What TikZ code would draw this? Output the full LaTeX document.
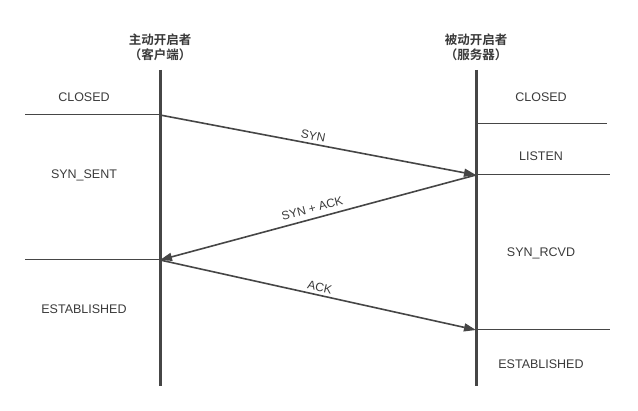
\documentclass[tikz,border=0pt]{standalone}
\usepackage{fontspec}
\setmainfont{Liberation Sans}
\newfontfamily\cjk{Noto Sans CJK SC}[BoldFont={Noto Sans CJK SC Bold}]
\usetikzlibrary{arrows.meta}
\definecolor{ln}{HTML}{464646}
\definecolor{tx}{HTML}{3A3A3A}
\tikzset{
  life/.style={draw=ln, line width=3pt},
  tick/.style={draw=ln, line width=1pt},
  msg/.style={draw=ln, line width=1.6pt, -{Triangle[length=12pt,width=8pt]}},
  state/.style={text=tx, font=\fontsize{12.5}{14}\selectfont, inner sep=0pt},
  head/.style={text=tx, font=\cjk\bfseries\fontsize{12.5}{15}\selectfont, align=center, inner sep=0pt},
  lbl/.style={text=tx, font=\fontsize{12}{14}\selectfont, inner sep=0pt, anchor=south}
}
\begin{document}
\begin{tikzpicture}[x=1pt,y=1pt]
\useasboundingbox (0,0) rectangle (638,411);
% headers
\node[head] (hc) at (160,364) {主动开启者\\（客户端）};
\node[head] (hs) at (476,364) {被动开启者\\（服务器）};
% lifelines
\coordinate (ct) at (160,341); \coordinate (cb) at (160,25);
\coordinate (st) at (476,341); \coordinate (sb) at (476,25);
\draw[life] (ct) -- (cb);
\draw[life] (st) -- (sb);
% event points
\coordinate (c1) at (160,296);
\coordinate (c2) at (160,151);
\coordinate (s1) at (476,236);
\coordinate (s2) at (476,81);
\coordinate (s0) at (476,287);
% state separators
\coordinate (l1) at (25,296); \coordinate (l2) at (25,151);
\coordinate (r0) at (607,287); \coordinate (r1) at (610,236); \coordinate (r2) at (610,81);
\draw[tick] (l1) -- (c1);
\draw[tick] (l2) -- (c2);
\draw[tick] (s0) -- (r0);
\draw[tick] (s1) -- (r1);
\draw[tick] (s2) -- (r2);
% states
\node[state] (cclosed) at (84,314) {CLOSED};
\node[state] (csent) at (84,236) {SYN\_SENT};
\node[state] (cest) at (84,102) {ESTABLISHED};
\node[state] (sclosed) at (541,314) {CLOSED};
\node[state] (slisten) at (541,255) {LISTEN};
\node[state] (srcvd) at (541,158) {SYN\_RCVD};
\node[state] (sest) at (541,47) {ESTABLISHED};
% messages
\draw[msg] (c1) -- node[lbl, pos=0.48, sloped, yshift=3pt] (m1) {SYN} (s1);
\draw[msg] (s1) -- node[lbl, pos=0.51, sloped, yshift=5pt] (m2) {SYN + ACK} (c2);
\draw[msg] (c2) -- node[lbl, pos=0.50, sloped, yshift=3pt] (m3) {ACK} (s2);
\end{tikzpicture}
\end{document}
